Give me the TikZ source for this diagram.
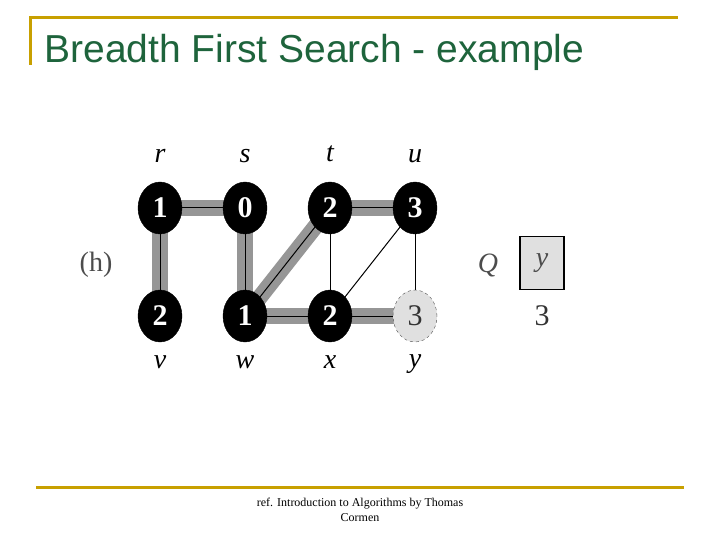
\documentclass[tikz,border=0pt]{standalone}
\usepackage{fontspec}
\setmainfont{Liberation Sans}
\newfontfamily\seriffont{Liberation Serif}
\usetikzlibrary{shapes.geometric}
\definecolor{gold}{RGB}{200,160,0}
\definecolor{titlegreen}{RGB}{30,100,60}
\definecolor{treegray}{RGB}{150,150,150}
\begin{document}
\begin{tikzpicture}[x=1pt,y=-1pt,
  vtx/.style={ellipse,fill=black,draw=black,minimum width=44pt,minimum height=52pt,inner sep=0pt,text=white,font=\seriffont\bfseries\fontsize{30}{30}\selectfont},
  grayv/.style={vtx,fill=black!12,draw=black!70,dashed,text=black!80,font=\seriffont\fontsize{30}{30}\selectfont},
  lab/.style={font=\seriffont\itshape\fontsize{28}{28}\selectfont},
  tree/.style={line width=16pt,draw=treegray},
  thin/.style={line width=1pt,draw=black}]
\useasboundingbox (0,0) rectangle (720,540);
\draw[gold,line width=3pt] (30,65) -- (30,18) -- (678,18);
\draw[gold,line width=3pt] (36,487) -- (684,487);
\node[anchor=west,text=titlegreen,font=\fontsize{39}{39}\selectfont] (title) at (41,52) {Breadth First Search - example};
\node[font=\seriffont\fontsize{12}{15}\selectfont,align=center] (ref) at (360,510) {ref. Introduction to Algorithms by Thomas\\Cormen};
\coordinate (r) at (160,208); \coordinate (s) at (245,208);
\coordinate (t) at (330,208); \coordinate (u) at (415,208);
\coordinate (v) at (160,316); \coordinate (w) at (245,316);
\coordinate (x) at (330,316); \coordinate (y) at (415,316);
\foreach \a/\b in {r/s,r/v,s/w,w/t,t/u,w/x,x/y}{\draw[tree] (\a) -- (\b); \draw[thin] (\a) -- (\b);}
\foreach \a/\b in {t/x,u/x,u/y}{\draw[thin] (\a) -- (\b);}
\node[vtx] (nr) at (r) {1}; \node[vtx] (ns) at (s) {0};
\node[vtx] (nt) at (t) {2}; \node[vtx] (nu) at (u) {3};
\node[vtx] (nv) at (v) {2}; \node[vtx] (nw) at (w) {1};
\node[vtx] (nx) at (x) {2}; \node[grayv] (ny) at (y) {3};
\node[lab] (lr) at (160,156) {r}; \node[lab] (ls) at (245,156) {s};
\node[lab] (lt) at (330,154) {t}; \node[lab] (lu) at (415,156) {u};
\node[lab] (lv) at (160,362) {v}; \node[lab] (lw) at (245,362) {w};
\node[lab] (lx) at (330,362) {x}; \node[lab] (ly) at (415,364) {y};
\node[font=\seriffont\fontsize{28}{28}\selectfont,text=black!70] (h) at (96,265) {(h)};
\node[lab,text=black!70] (Q) at (488,265) {Q};
\node[draw=black,line width=1.5pt,fill=black!12,minimum width=44pt,minimum height=53pt,lab,text=black!70] (qy) at (542,263) {y};
\node[font=\seriffont\fontsize{30}{30}\selectfont,text=black!80] (q3) at (542,316) {3};
\end{tikzpicture}
\end{document}
